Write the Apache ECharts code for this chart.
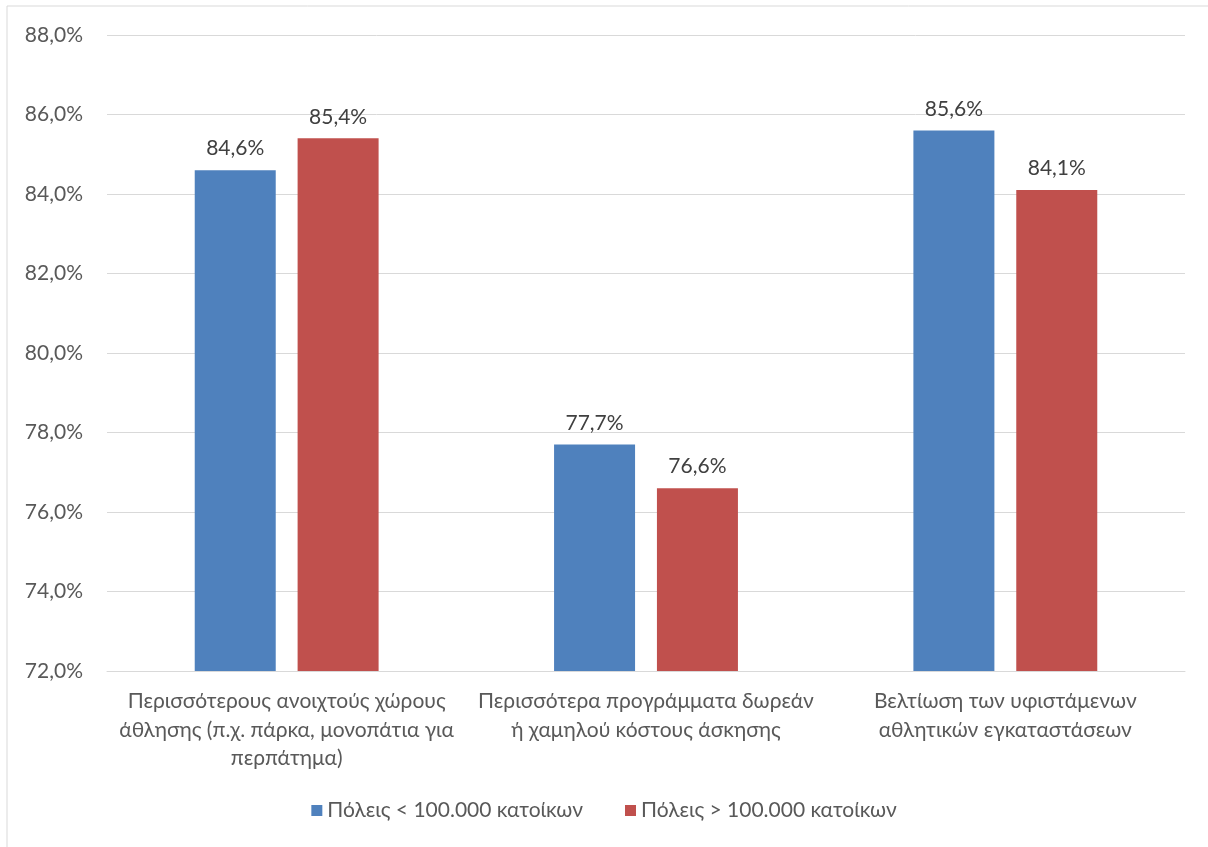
<!DOCTYPE html>
<html>
<head>
<meta charset="utf-8">
<script src="https://cdn.jsdelivr.net/npm/echarts@6/dist/echarts.min.js"></script>
<style>
html,body{margin:0;padding:0;background:#fff;}
#c{width:1208px;height:847px;}
</style>
</head>
<body>
<div id="c"></div>
<script>
const categories = [
  'Περισσότερους ανοιχτούς χώρους\nάθλησης (π.χ. πάρκα, μονοπάτια για\nπερπάτημα)',
  'Περισσότερα προγράμματα δωρεάν\nή χαμηλού κόστους άσκησης',
  'Βελτίωση των υφιστάμενων\nαθλητικών εγκαταστάσεων'
];
const seriesNames = ['Πόλεις < 100.000 κατοίκων', 'Πόλεις > 100.000 κατοίκων'];
const smallCities = [84.6, 77.7, 85.6];
const largeCities = [85.4, 76.6, 84.1];
const colors = ['#4f81bd', '#c0504d'];

const fmt = v => v.toFixed(1).replace('.', ',') + '%';
const font = 'Lato, "Noto Sans", sans-serif';
const fs = 21;

const chart = echarts.init(document.getElementById('c'));
chart.setOption({
  animation: false,
  textStyle: { fontFamily: font },
  graphic: [{
    type: 'rect',
    shape: { x: 7, y: 6, width: 1220, height: 860 },
    style: { fill: 'none', stroke: '#d9d9d9', lineWidth: 1 },
    silent: true
  }],
  grid: { left: 107, right: 23, top: 35, bottom: 176, containLabel: false },
  legend: {
    bottom: 21,
    left: 'center',
    itemWidth: 11,
    itemHeight: 11,
    itemGap: 42,
    icon: 'rect',
    textStyle: { fontSize: fs, color: '#595959', fontFamily: font },
    data: seriesNames
  },
  xAxis: {
    type: 'category',
    data: categories,
    axisLine: { lineStyle: { color: '#d9d9d9' } },
    axisTick: { show: false },
    axisLabel: { fontSize: fs, color: '#595959', lineHeight: 28.5, margin: 16, interval: 0 }
  },
  yAxis: {
    type: 'value',
    min: 72, max: 88, interval: 2,
    axisLine: { show: false },
    axisTick: { show: false },
    splitLine: { lineStyle: { color: '#d9d9d9' } },
    axisLabel: { fontSize: fs, color: '#595959', margin: 24, formatter: v => fmt(v) }
  },
  series: [
    {
      name: seriesNames[0], type: 'bar', data: smallCities,
      barWidth: 81, barGap: '27%',
      itemStyle: { color: colors[0] },
      label: { show: true, position: 'top', distance: 11, fontSize: fs, color: '#404040', formatter: p => fmt(p.value) }
    },
    {
      name: seriesNames[1], type: 'bar', data: largeCities,
      barWidth: 81,
      itemStyle: { color: colors[1] },
      label: { show: true, position: 'top', distance: 11, fontSize: fs, color: '#404040', formatter: p => fmt(p.value) }
    }
  ]
});
</script>
</body>
</html>
